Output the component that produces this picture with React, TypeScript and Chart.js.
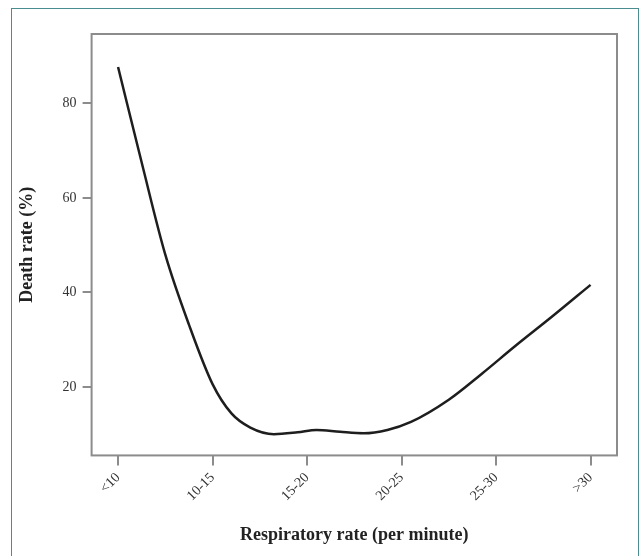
import React, { useEffect, useRef } from "react";
import { Chart, registerables } from "chart.js";

Chart.register(...registerables);

const categories = ["<10", "10-15", "15-20", "20-25", "25-30", ">30"];
const curveX = [0, 0.25, 0.5, 0.75, 1.0, 1.2, 1.4, 1.65, 1.9, 2.1, 2.35, 2.6, 2.85, 3.1, 3.5, 3.85, 4.2, 4.6, 5.0];
const curveY = [87.7, 67.5, 48.0, 33.2, 20.6, 14.4, 11.4, 10.0, 10.4, 10.9, 10.5, 10.2, 10.9, 12.6, 17.3, 22.8, 28.6, 35.0, 41.6];
const yTicks = [20, 40, 60, 80];

const boxPlugin = {
  id: "boxPlugin",
  afterDraw(chart: any) {
    const { ctx, chartArea } = chart;
    ctx.save();
    ctx.strokeStyle = "#8c8c8c";
    ctx.lineWidth = 2;
    ctx.strokeRect(chartArea.left, chartArea.top, chartArea.right - chartArea.left, chartArea.bottom - chartArea.top);
    ctx.restore();
  },
};

export default function App() {
  const ref = useRef<HTMLCanvasElement>(null);
  useEffect(() => {
    document.body.style.margin = "0";
    const chart = new Chart(ref.current!, {
      type: "line",
      data: {
        datasets: [
          {
            data: curveX.map((x, i) => ({ x, y: curveY[i] })),
            borderColor: "#1e1e1e",
            borderWidth: 2.5,
            pointRadius: 0,
            cubicInterpolationMode: "monotone",
            fill: false,
          },
        ],
      },
      options: {
        animation: false,
        responsive: false,
        maintainAspectRatio: false,
        layout: { padding: { left: 17, top: 34, right: 27, bottom: 10 } },
        plugins: { legend: { display: false }, tooltip: { enabled: false } },
        scales: {
          x: {
            type: "linear",
            min: -0.28,
            max: 5.28,
            afterBuildTicks: (axis: any) => {
              axis.ticks = categories.map((_, i) => ({ value: i }));
            },
            ticks: {
              autoSkip: false,
              maxRotation: 45,
              minRotation: 45,
              color: "#333",
              padding: 4,
              font: { family: "Liberation Serif", size: 14 },
              callback: (v: any) => categories[v as number] ?? "",
            },
            grid: { drawOnChartArea: false, drawTicks: true, tickLength: 10, color: "#8c8c8c", lineWidth: 2 },
            border: { display: false },
            title: {
              display: true,
              text: "Respiratory rate (per minute)",
              color: "#222",
              font: { family: "Liberation Serif", size: 18, weight: "bold" },
              padding: { top: 16, bottom: 0 },
            },
          },
          y: {
            min: 5.5,
            max: 94.7,
            afterBuildTicks: (axis: any) => {
              axis.ticks = yTicks.map((v) => ({ value: v }));
            },
            ticks: {
              color: "#333",
              padding: 6,
              font: { family: "Liberation Serif", size: 14 },
            },
            grid: { drawOnChartArea: false, drawTicks: true, tickLength: 9, color: "#8c8c8c", lineWidth: 2 },
            border: { display: false },
            title: {
              display: true,
              text: "Death rate (%)",
              color: "#222",
              font: { family: "Liberation Serif", size: 18, weight: "bold" },
              padding: { top: 0, bottom: 18 },
            },
          },
        },
      },
      plugins: [boxPlugin],
    } as any);
    return () => chart.destroy();
  }, []);
  return (
    <div style={{ position: "relative", width: 644, height: 556, background: "#fff", overflow: "hidden" }}>
      <div
        style={{
          position: "absolute",
          left: 11,
          top: 8,
          width: 628,
          height: 560,
          boxSizing: "border-box",
          border: "1.5px solid #4a8c8f",
        }}
      />
      <canvas ref={ref} width={644} height={556} style={{ position: "absolute", left: 0, top: 0 }} />
    </div>
  );
}
